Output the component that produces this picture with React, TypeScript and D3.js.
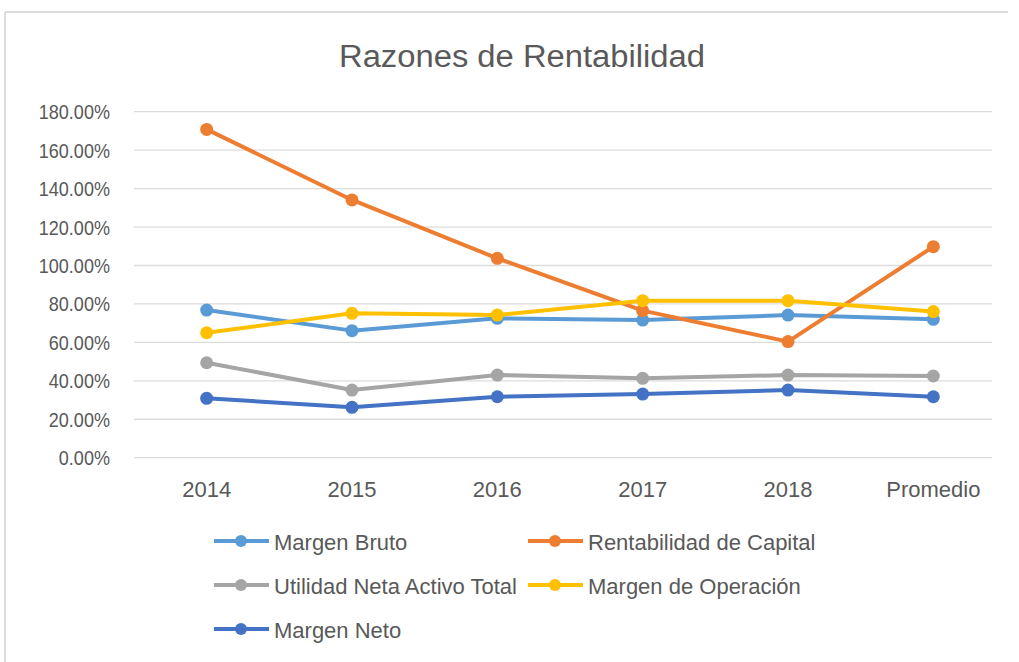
import React from "react";
import * as d3 from "d3";

const categories = ["2014", "2015", "2016", "2017", "2018", "Promedio"];

const margenBruto = [0.768, 0.661, 0.725, 0.716, 0.742, 0.72];
const rentabilidadCapital = [1.708, 1.341, 1.037, 0.765, 0.604, 1.098];
const utilidadNetaActivo = [0.494, 0.352, 0.43, 0.413, 0.43, 0.425];
const margenOperacion = [0.65, 0.751, 0.742, 0.817, 0.817, 0.76];
const margenNeto = [0.309, 0.262, 0.317, 0.331, 0.352, 0.317];

const yTicks = [0, 0.2, 0.4, 0.6, 0.8, 1.0, 1.2, 1.4, 1.6, 1.8];

const seriesNames = [
  "Margen Bruto",
  "Rentabilidad de Capital",
  "Utilidad Neta Activo Total",
  "Margen de Operación",
  "Margen Neto",
];
const seriesValues = [
  margenBruto,
  rentabilidadCapital,
  utilidadNetaActivo,
  margenOperacion,
  margenNeto,
];
const seriesColors = ["#5B9BD5", "#ED7D31", "#A5A5A5", "#FFC000", "#4472C4"];

const W = 1019;
const H = 662;
const FONT = "'Liberation Sans', Arial, sans-serif";
const TEXT = "#595959";

export default function App() {
  const x = d3
    .scalePoint<string>()
    .domain(categories)
    .range([134, 1006])
    .padding(0.5);
  const y = d3.scaleLinear().domain([0, 1.8]).range([457.7, 111.7]);
  const fmt = (v: number) => (v * 100).toFixed(2) + "%";

  const line = d3
    .line<number>()
    .x((_, i) => x(categories[i]) as number)
    .y((d) => y(d));

  // legend layout: two columns, three rows
  const legendPos = seriesNames.map((_, i) => ({
    lx: i % 2 === 0 ? 214 : 528,
    ly: 541 + Math.floor(i / 2) * 44,
  }));

  return (
    <svg
      width={W}
      height={H}
      style={{ position: "absolute", left: 0, top: 0, background: "#fff" }}
      fontFamily={FONT}
    >
      <rect x={0} y={0} width={W} height={H} fill="#fff" />
      {/* chart frame */}
      <line x1={5} y1={12} x2={1008} y2={12} stroke="#d0d0d0" strokeWidth={1.5} />
      <line x1={5} y1={12} x2={5} y2={H} stroke="#d0d0d0" strokeWidth={1.5} />

      <text
        x={522}
        y={67}
        textAnchor="middle"
        fontSize={31}
        fill={TEXT}
        textLength={366}
        lengthAdjust="spacingAndGlyphs"
      >
        Razones de Rentabilidad
      </text>

      {/* gridlines and y labels */}
      {yTicks.map((t) => (
        <g key={t}>
          <line
            x1={134}
            x2={992}
            y1={y(t)}
            y2={y(t)}
            stroke="#dcdcdc"
            strokeWidth={1.3}
          />
          <g transform={`translate(110, ${y(t) + 7.5}) scale(0.86, 1)`}>
            <text x={0} y={0} textAnchor="end" fontSize={21} fill={TEXT}>
              {fmt(t)}
            </text>
          </g>
        </g>
      ))}

      {/* category labels */}
      {categories.map((c) => (
        <text
          key={c}
          x={x(c) as number}
          y={497}
          textAnchor="middle"
          fontSize={22}
          fill={TEXT}
        >
          {c}
        </text>
      ))}

      {/* series */}
      {seriesValues.map((vals, si) => (
        <g key={seriesNames[si]}>
          <path
            d={line(vals) || ""}
            fill="none"
            stroke={seriesColors[si]}
            strokeWidth={4}
            strokeLinejoin="round"
            strokeLinecap="round"
          />
          {vals.map((v, i) => (
            <circle
              key={i}
              cx={x(categories[i]) as number}
              cy={y(v)}
              r={6.5}
              fill={seriesColors[si]}
            />
          ))}
        </g>
      ))}

      {/* legend */}
      {seriesNames.map((name, i) => {
        const { lx, ly } = legendPos[i];
        return (
          <g key={name}>
            <line
              x1={lx}
              x2={lx + 55}
              y1={ly}
              y2={ly}
              stroke={seriesColors[i]}
              strokeWidth={4}
            />
            <circle cx={lx + 27} cy={ly} r={6} fill={seriesColors[i]} />
            <text x={lx + 60} y={ly + 8.5} fontSize={22} fill={TEXT}>
              {name}
            </text>
          </g>
        );
      })}
    </svg>
  );
}
